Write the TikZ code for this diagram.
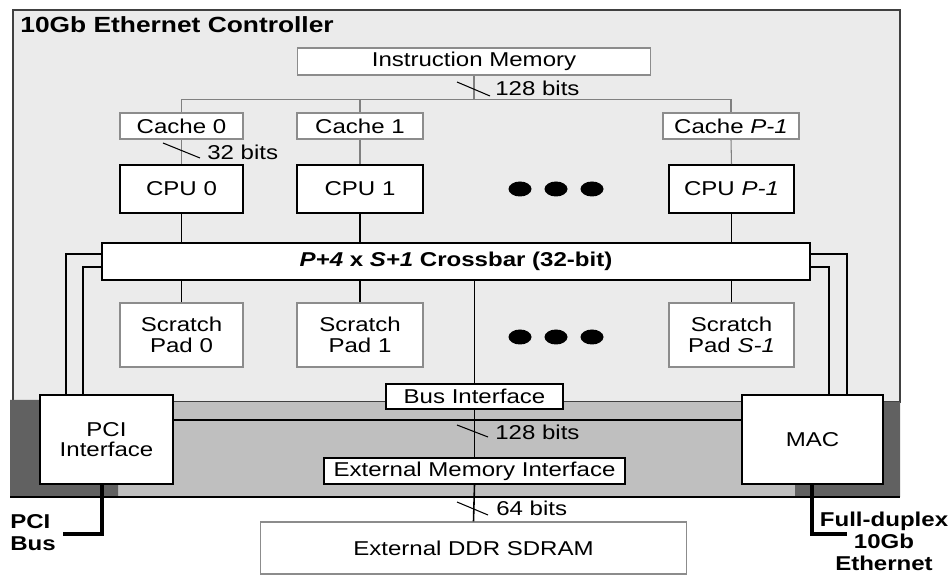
\documentclass[tikz,border=0pt]{standalone}
\usepackage{fontspec}
\setmainfont{Liberation Sans}[FakeStretch=1.2]
\begin{document}
\begin{tikzpicture}[x=0.02cm,y=-0.02cm,
  every node/.style={font=\fontsize{11.4}{11.8}\selectfont, inner sep=0pt, align=center},
  solidbox/.style={draw=black, fill=white, line width=1pt},
  lightbox/.style={draw=black!45, fill=white, line width=0.6pt},
  wire/.style={draw=black, line width=0.9pt},
  lightwire/.style={draw=black!50, line width=0.6pt},
  thinwire/.style={draw=black, line width=0.6pt},
  extbus/.style={draw=black, line width=2.3pt},
  dot/.style={fill=black}]
\useasboundingbox (0,0) rectangle (951,577);
% controller area
\filldraw[fill=black!8, draw=black!75, line width=0.8pt] (13,10) rectangle (900,402);
% lower band
\fill[black!25] (10,402) rectangle (900,497);
\fill[black!62] (10,400) -- (40,400) -- (40,484) -- (118,484) -- (118,497) -- (10,497) -- cycle;
\fill[black!62] (883,402) -- (900,402) -- (900,497) -- (795,497) -- (795,484) -- (883,484) -- cycle;
\draw[black, line width=0.9pt] (10,497) -- (900,497);
\node[anchor=west, font=\fontsize{12.5}{13}\selectfont\bfseries] (title) at (20,25) {10Gb Ethernet Controller};
% nodes
\node[lightbox, minimum width=7.08cm, minimum height=0.54cm] (im) at (474,61.5) {Instruction Memory};
\node[lightbox, minimum width=2.46cm, minimum height=0.52cm] (c0) at (181.5,126) {Cache 0};
\node[lightbox, minimum width=2.52cm, minimum height=0.52cm] (c1) at (360,126) {Cache 1};
\node[lightbox, minimum width=2.72cm, minimum height=0.52cm] (cp) at (731,126) {Cache \textit{P-1}};
\node[solidbox, minimum width=2.46cm, minimum height=0.96cm] (cpu0) at (181.5,189) {CPU 0};
\node[solidbox, minimum width=2.52cm, minimum height=0.96cm] (cpu1) at (360,189) {CPU 1};
\node[solidbox, minimum width=2.5cm, minimum height=0.96cm] (cpup) at (731.5,189) {CPU \textit{P-1}};
\node[solidbox, minimum width=14.16cm, minimum height=0.74cm] (xbar) at (456,261.5) {\bfseries\textit{P+4} x \textit{S+1} Crossbar (32-bit)};
\node[lightbox, minimum width=2.46cm, minimum height=1.28cm] (sp0) at (181.5,335) {Scratch\\Pad 0};
\node[lightbox, minimum width=2.52cm, minimum height=1.28cm] (sp1) at (360,335) {Scratch\\Pad 1};
\node[lightbox, minimum width=2.5cm, minimum height=1.28cm] (sps) at (731.5,335) {Scratch\\Pad \textit{S-1}};
\node[solidbox, minimum width=3.54cm, minimum height=0.5cm] (bi) at (474.5,396.5) {Bus Interface};
\node[solidbox, minimum width=2.66cm, minimum height=1.78cm] (pci) at (106.5,439.5) {PCI\\Interface};
\node[solidbox, minimum width=2.82cm, minimum height=1.78cm] (mac) at (812.5,439.5) {MAC};
\node[solidbox, minimum width=6.02cm, minimum height=0.52cm] (emi) at (474.5,471) {External Memory Interface};
\node[lightbox, minimum width=8.54cm, minimum height=1.04cm] (ddr) at (473.5,548) {External DDR SDRAM};
% dots
\foreach \dx in {520,556,592} {
  \fill[dot] (\dx,189) ellipse [x radius=0.23cm, y radius=0.15cm];
  \fill[dot] (\dx,337) ellipse [x radius=0.23cm, y radius=0.15cm];
}
% instruction bus
\coordinate (ib) at (474,100);
\draw[lightwire] (im.south) -- (ib);
\draw[lightwire] (c0.north) -- ++(0,-13) -| (cp.north);
\draw[lightwire] (c1.north) -- (c1.north |- ib);
\draw[lightwire] (c0.south) -- (cpu0.north);
\draw[lightwire] (c1.south) -- (cpu1.north);
\draw[lightwire] (cp.south) -- (cpup.north);
\draw[thinwire] (457,82) -- (490,96);
\node[anchor=west] (l128a) at (495,88) {128 bits};
\draw[thinwire] (163,143) -- (200,158);
\node[anchor=west] (l32) at (207,152) {32 bits};
% cpu - crossbar - scratch
\draw[wire] (cpu0.south) -- (cpu0.south |- xbar.north);
\draw[wire] (cpu1.south) -- (cpu1.south |- xbar.north);
\draw[wire] (cpup.south) -- (cpup.south |- xbar.north);
\draw[wire] (sp0.north) -- (sp0.north |- xbar.south);
\draw[wire] (sp1.north) -- (sp1.north |- xbar.south);
\draw[wire] (sps.north) -- (sps.north |- xbar.south);
\draw[wire] (bi.north |- xbar.south) -- (bi.north);
% side links
\coordinate (lo) at (66,254);
\coordinate (li) at (83,267);
\coordinate (ro) at (847,254);
\coordinate (ri) at (829,267);
\draw[wire] (xbar.west |- lo) -- (lo) -- (lo |- pci.north);
\draw[wire] (xbar.west |- li) -- (li) -- (li |- pci.north);
\draw[wire] (xbar.east |- ro) -- (ro) -- (ro |- mac.north);
\draw[wire] (xbar.east |- ri) -- (ri) -- (ri |- mac.north);
% memory path
\coordinate (bandtop) at (475,420);
\draw[wire] (pci.east |- bandtop) -- (mac.west |- bandtop);
\draw[wire] (bi.south) -- (emi.north);
\draw[wire] (emi.south) -- (ddr.north);
\draw[thinwire] (457,425) -- (488,437);
\node[anchor=west] (l128b) at (495,432) {128 bits};
\draw[thinwire] (457,502) -- (488,515);
\node[anchor=west] (l64) at (496,508) {64 bits};
% external buses
\coordinate (pbc) at (102,534);
\coordinate (pbe) at (63,534);
\draw[extbus] (pci.south -| pbc) -- (pbc) -- (pbe);
\coordinate (mbc) at (812,534);
\coordinate (mbe) at (847,534);
\draw[extbus] (mac.south -| mbc) -- (mbc) -- (mbe);
\node[anchor=west, align=left, font=\fontsize{11.4}{12.5}\selectfont\bfseries] (pcibus) at (10,533) {PCI\\Bus};
\node[font=\fontsize{11.4}{12.5}\selectfont\bfseries] (eth) at (884,541) {Full-duplex\\10Gb\\Ethernet};
\end{tikzpicture}
\end{document}
